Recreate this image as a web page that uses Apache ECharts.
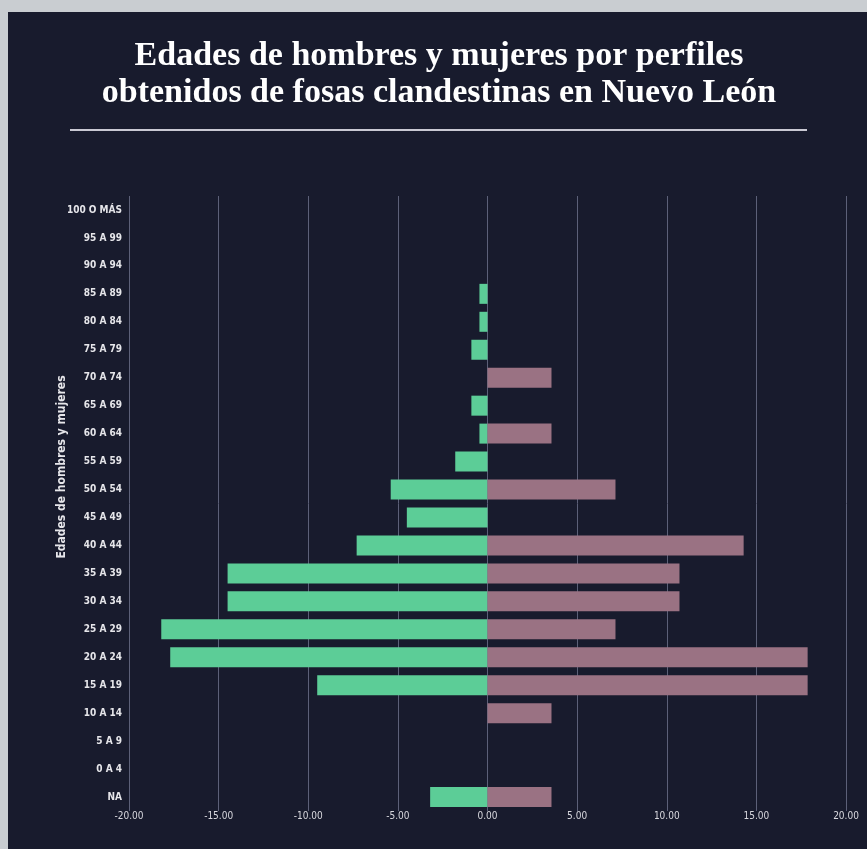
<!DOCTYPE html>
<html>
<head>
<meta charset="utf-8">
<script src="https://cdn.jsdelivr.net/npm/echarts@6/dist/echarts.min.js"></script>
<style>
html,body{margin:0;padding:0;background:#c9cdd1;width:867px;height:849px;overflow:hidden;}
#c{position:absolute;left:8px;top:12px;width:859px;height:837px;}
</style>
</head>
<body>
<div id="c"></div>
<script>
const titleLines = ['Edades de hombres y mujeres por perfiles', 'obtenidos de fosas clandestinas en Nuevo León'];
const yAxisName = 'Edades de hombres y mujeres';
const categories = ['NA','0 A 4','5 A 9','10 A 14','15 A 19','20 A 24','25 A 29','30 A 34','35 A 39','40 A 44','45 A 49','50 A 54','55 A 59','60 A 64','65 A 69','70 A 74','75 A 79','80 A 84','85 A 89','90 A 94','95 A 99','100 O MÁS'];
const hombres = [-3.2,0,0,0,-9.5,-17.7,-18.2,-14.5,-14.5,-7.3,-4.5,-5.4,-1.8,-0.45,-0.9,0,-0.9,-0.45,-0.45,0,0,0];
const mujeres = [3.57,0,0,3.57,17.86,17.86,7.14,10.71,10.71,14.29,0,7.14,0,3.57,0,3.57,0,0,0,0,0,0];
const xTicks = {min:-20, max:20, interval:5};

const chart = echarts.init(document.getElementById('c'));
chart.setOption({
  backgroundColor:'#181b2d',
  animation:false,
  graphic:[
    {type:'text', x:431, y:26, style:{text:titleLines.join('\n'), fill:'#ffffff', font:'bold 34px "Liberation Serif"', textAlign:'center', lineHeight:37}},
    {type:'rect', shape:{x:62,y:117,width:737,height:2}, style:{fill:'#c9c9d3'}},
    {type:'text', x:54, y:455, rotation:Math.PI/2, style:{text:yAxisName, fill:'#e6e6ea', font:'bold 12px "DejaVu Sans Condensed"', textAlign:'center', textVerticalAlign:'middle'}}
  ],
  grid:{left:121, right:21, top:184, height:615},
  xAxis:{type:'value', min:xTicks.min, max:xTicks.max, interval:xTicks.interval,
    axisLine:{show:false}, axisTick:{show:false},
    splitLine:{lineStyle:{color:'#5c6078', width:1}},
    axisLabel:{color:'#d8d8de', fontFamily:'DejaVu Sans Condensed', fontSize:10, margin:0, formatter:v=>v.toFixed(2)}},
  yAxis:{type:'category', data:categories,
    axisLine:{show:false}, axisTick:{show:false},
    axisLabel:{color:'#e6e6ea', fontFamily:'DejaVu Sans Condensed', fontWeight:'bold', fontSize:10, margin:7}},
  series:[
    {type:'bar', name:'Hombres', data:hombres, barWidth:20, barGap:'-100%', itemStyle:{color:'#5ccd97'}},
    {type:'bar', name:'Mujeres', data:mujeres, barWidth:20, itemStyle:{color:'#9a7283'}}
  ]
});
</script>
</body>
</html>
